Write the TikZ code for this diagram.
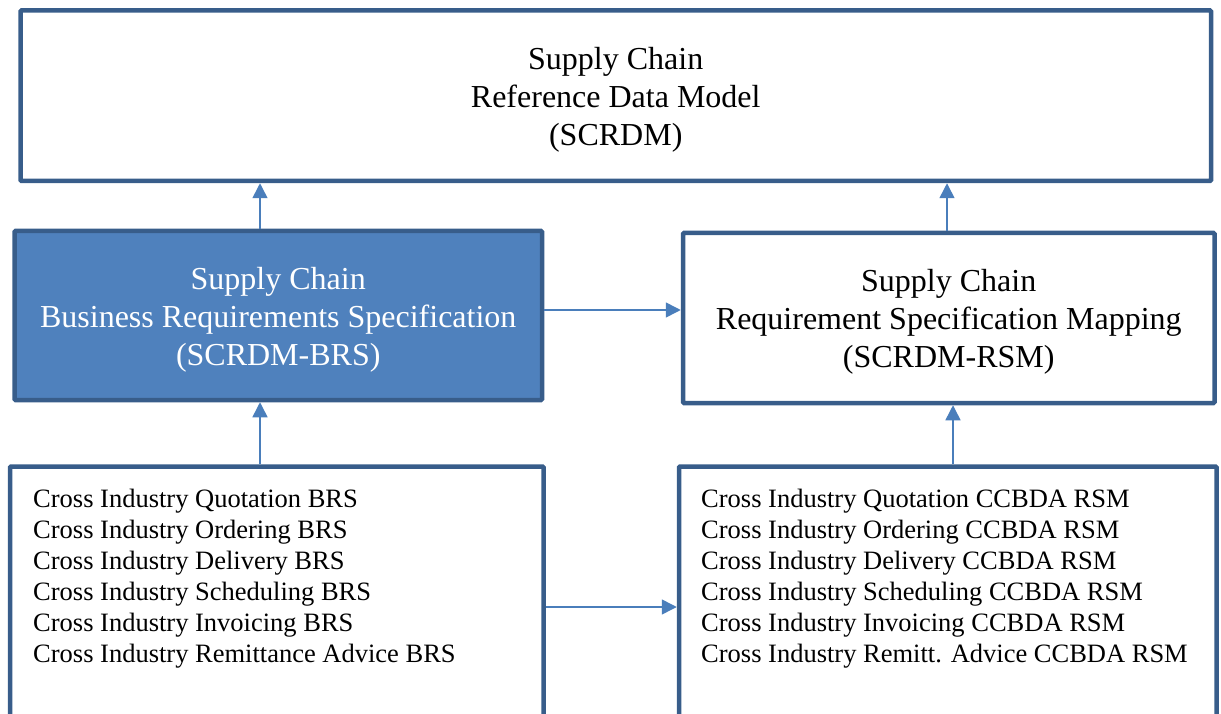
\documentclass[tikz,border=0pt]{standalone}
\usepackage{fontspec}
\setmainfont{Liberation Serif}
\usetikzlibrary{arrows.meta}
\definecolor{bord}{HTML}{385D8A}
\definecolor{arr}{HTML}{4A7EBB}
\definecolor{fillb}{HTML}{4F81BD}
\begin{document}
\begin{tikzpicture}[x=1pt,y=-1pt,
 box/.style={draw=bord, line width=4.5pt, rectangle, inner sep=0pt, rounded corners=1pt},
 title/.style={font=\fontsize{32}{38}\selectfont, align=center},
 listtext/.style={font=\fontsize{26.5}{31}\selectfont, align=left, inner sep=0pt, anchor=north west},
 conn/.style={draw=arr, line width=1.5pt, -{Triangle[width=15pt,length=15pt]}}
]
\clip (0,0) rectangle (1221,714);
\node[box, title, minimum width=1190.5pt, minimum height=170.5pt] (scrdm) at (615.75,95.75) {\rule{0pt}{30pt}Supply Chain\\Reference Data Model\\(SCRDM)};
\node[box, title, fill=fillb, text=white, minimum width=527.5pt, minimum height=169pt] (brs) at (278.25,315.5) {\rule{0pt}{30pt}Supply Chain\\Business Requirements Specification\\(SCRDM-BRS)};
\node[box, title, minimum width=531.5pt, minimum height=170pt] (rsm) at (948.75,318) {\rule{0pt}{30pt}Supply Chain\\Requirement Specification Mapping\\(SCRDM-RSM)};
\node[box, minimum width=533.5pt, minimum height=333.5pt] (bl) at (276.75,633.25) {};
\node[box, minimum width=537.5pt, minimum height=333.5pt] (br) at (947.75,633.25) {};
\node[listtext] (bltext) at (33,489) {Cross Industry Quotation BRS\\Cross Industry Ordering BRS\\Cross Industry Delivery BRS\\Cross Industry Scheduling BRS\\Cross Industry Invoicing BRS\\Cross Industry Remittance Advice BRS};
\node[listtext] (brtext) at (701,489) {Cross Industry Quotation CCBDA RSM\\Cross Industry Ordering CCBDA RSM\\Cross Industry Delivery CCBDA RSM\\Cross Industry Scheduling CCBDA RSM\\Cross Industry Invoicing CCBDA RSM\\Cross Industry Remitt. Advice CCBDA RSM};
\coordinate (v1) at (260,0);
\coordinate (v2) at (947,0);
\coordinate (v3) at (260,0);
\coordinate (v4) at (953,0);
\coordinate (h1) at (0,310);
\coordinate (h2) at (0,607);
\draw[conn] (brs.north -| v1) -- (scrdm.south -| v1);
\draw[conn] (rsm.north -| v2) -- (scrdm.south -| v2);
\draw[conn] (bl.north -| v3) -- (brs.south -| v3);
\draw[conn] (br.north -| v4) -- (rsm.south -| v4);
\draw[conn] (brs.east |- h1) -- (rsm.west |- h1);
\draw[conn] (bl.east |- h2) -- (br.west |- h2);
\end{tikzpicture}
\end{document}
